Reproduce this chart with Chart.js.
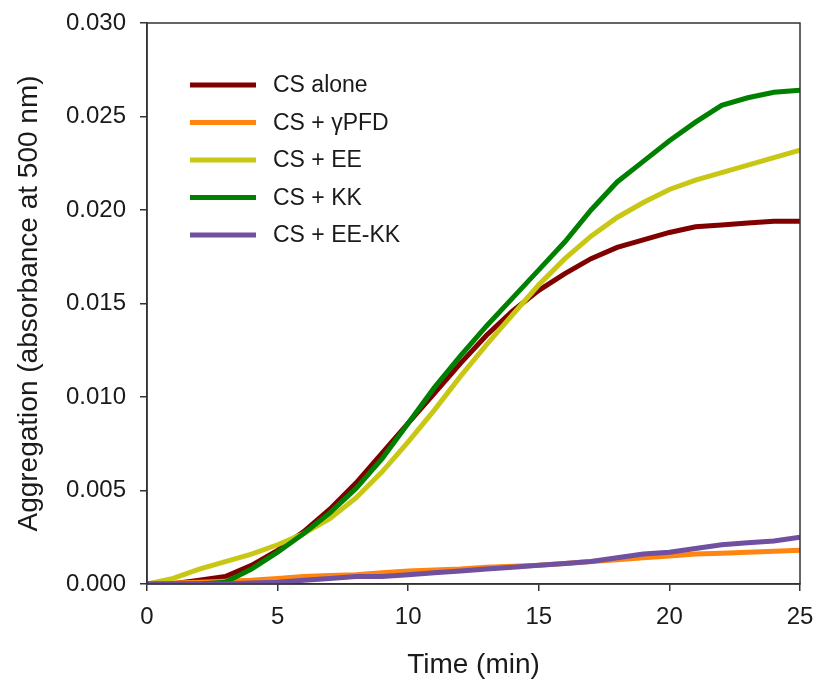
<!DOCTYPE html>
<html>
<head>
<meta charset="utf-8">
<title>Aggregation</title>
<script src="https://cdn.jsdelivr.net/npm/chart.js@4/dist/chart.umd.min.js"></script>
<style>
  html, body { margin: 0; padding: 0; background: #fff; }
  #wrap { width: 817px; height: 679px; }
</style>
</head>
<body>
<div id="wrap"><canvas id="chart" width="817" height="679"></canvas></div>
<script>
// time points (min)
const times = [0,1,2,3,4,5,6,7,8,9,10,11,12,13,14,15,16,17,18,19,20,21,22,23,24,25];

// absorbance at 500 nm
const csAlone = [0,0.00002,0.0002,0.0004,0.0010,0.0018,0.0028,0.0040,0.0054,0.0070,0.0086,0.0102,0.0118,0.0133,0.0146,0.0157,0.0166,0.0174,0.0180,0.0184,0.0188,0.0191,0.0192,0.0193,0.0194,0.0194];
const csPfd   = [0,0.00005,0.0001,0.00015,0.0002,0.0003,0.0004,0.00045,0.0005,0.0006,0.0007,0.00075,0.0008,0.0009,0.00095,0.0010,0.0011,0.0012,0.0013,0.0014,0.0015,0.0016,0.00165,0.0017,0.00175,0.0018];
const csEE    = [0,0.0003,0.0008,0.0012,0.0016,0.0021,0.0027,0.0035,0.0046,0.0060,0.0076,0.0093,0.0111,0.0128,0.0144,0.0160,0.0174,0.0186,0.0196,0.0204,0.0211,0.0216,0.0220,0.0224,0.0228,0.0232];
const csKK    = [0,0,0,0.0001,0.0008,0.0017,0.0027,0.0038,0.0051,0.0067,0.0086,0.0105,0.0122,0.0138,0.0153,0.0168,0.0183,0.0200,0.0215,0.0226,0.0237,0.0247,0.0256,0.0260,0.0263,0.0264];
const csEEKK  = [0,0,0,0,0.00005,0.0001,0.0002,0.0003,0.0004,0.0004,0.0005,0.0006,0.0007,0.0008,0.0009,0.0010,0.0011,0.0012,0.0014,0.0016,0.0017,0.0019,0.0021,0.0022,0.0023,0.0025];

const seriesLabels = ['CS alone', 'CS + \u03b3PFD', 'CS + EE', 'CS + KK', 'CS + EE-KK'];
const seriesValues = [csAlone, csPfd, csEE, csKK, csEEKK];
const seriesColors = ['#800000', '#ff8410', '#c8c814', '#008000', '#7050a0'];

const FONT = "'Liberation Sans', Arial, sans-serif";

// box around the plot area (top + right edges too)
const frame = {
  id: 'frame',
  afterDraw(chart) {
    const { ctx, chartArea: a } = chart;
    ctx.save();
    ctx.strokeStyle = '#333';
    ctx.lineWidth = 1.5;
    ctx.strokeRect(a.left, a.top, a.right - a.left, a.bottom - a.top);
    ctx.restore();
  }
};

// legend sits inside the plot, top-left
const insideLegend = {
  id: 'insideLegend',
  afterDatasetsDraw(chart) {
    const ctx = chart.ctx;
    ctx.save();
    ctx.font = '23px ' + FONT;
    ctx.textBaseline = 'middle';
    ctx.textAlign = 'left';
    seriesLabels.forEach((lab, i) => {
      const y = 85 + i * 37.5;
      ctx.strokeStyle = seriesColors[i];
      ctx.lineWidth = 5;
      ctx.beginPath();
      ctx.moveTo(190, y);
      ctx.lineTo(256, y);
      ctx.stroke();
      ctx.fillStyle = '#1a1a1a';
      ctx.fillText(lab, 273, y + 1);
    });
    ctx.restore();
  }
};

const datasets = seriesLabels.map((lab, i) => ({
  label: lab,
  data: times.map((t, j) => ({ x: t, y: seriesValues[i][j] })),
  borderColor: seriesColors[i],
  backgroundColor: seriesColors[i],
  borderWidth: 5,
  pointRadius: 0,
  tension: 0,
  fill: false,
  order: seriesLabels.length - 1 - i
}));

new Chart(document.getElementById('chart'), {
  type: 'line',
  data: { datasets },
  options: {
    responsive: false,
    animation: false,
    layout: { padding: { left: 0, top: 23, right: 17, bottom: 0 } },
    plugins: { legend: { display: false }, tooltip: { enabled: false } },
    scales: {
      x: {
        type: 'linear',
        min: 0, max: 25,
        border: { display: true, color: '#333', width: 1.5 },
        grid: { display: true, drawOnChartArea: false, drawTicks: true, tickLength: 7, color: '#333', lineWidth: 1.5 },
        ticks: { stepSize: 5, padding: 12, color: '#1a1a1a', font: { family: FONT, size: 24 } },
        title: { display: true, text: 'Time (min)', color: '#1a1a1a', padding: { top: 0, bottom: -3 }, font: { family: FONT, size: 28, lineHeight: 1.2 } },
        afterFit(scale) { scale.height = 95; scale.paddingLeft = 0; scale.paddingRight = 0; }
      },
      y: {
        min: 0, max: 0.030,
        border: { display: true, color: '#333', width: 1.5 },
        grid: { display: true, drawOnChartArea: false, drawTicks: true, tickLength: 7, color: '#333', lineWidth: 1.5 },
        ticks: { stepSize: 0.005, padding: 14, color: '#1a1a1a', font: { family: FONT, size: 24 },
                 callback: v => Number(v).toFixed(3) },
        title: { display: true, text: 'Aggregation (absorbance at 500 nm)', color: '#1a1a1a', padding: { top: 12, bottom: 0 }, font: { family: FONT, size: 28, lineHeight: 1.2 } },
        afterFit(scale) { scale.width = 147; scale.paddingTop = 0; scale.paddingBottom = 0; }
      }
    }
  },
  plugins: [frame, insideLegend]
});
</script>
</body>
</html>
